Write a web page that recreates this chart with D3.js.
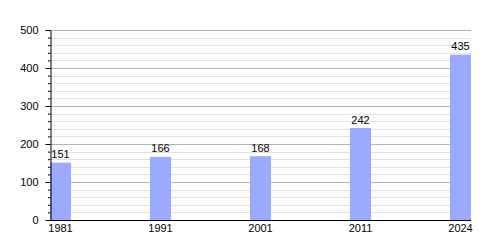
<!DOCTYPE html>
<html>
<head>
<meta charset="utf-8">
<script src="https://cdn.jsdelivr.net/npm/d3@7"></script>
<style>
  body { margin: 0; background: #fff; }
  svg { display: block; font-family: "Liberation Sans", Arial, sans-serif; }
</style>
</head>
<body>
<div class="bar-chart"></div>
<script>
//======================DATA===================================================
const years = ['1981', '1991', '2001', '2011', '2024'];
const population = [151, 166, 168, 242, 435];
const majorTicks = [0, 100, 200, 300, 400, 500];
const minorTicks = d3.range(0, 501, 20);

//======================CHART==================================================
const w = 500;
const h = 250;

const plotLeft = 50;
const plotRight = 471;
const plotTop = 30;
const plotBottom = 220;

const xScale = d3.scaleBand()
  .domain(years)
  .range([plotLeft, plotRight])
  .paddingInner(0.79)
  .paddingOuter(0);

const yScale = d3.scaleLinear()
  .domain([0, 500])
  .range([plotBottom, plotTop]);

const svg = d3.select(".bar-chart").append("svg")
  .attr("width", w)
  .attr("height", h);

// minor grid

svg.append("g")
  .selectAll("line")
  .data(minorTicks.filter(d => d % 100 !== 0))
  .join("line")
  .attr("x1", plotLeft)
  .attr("x2", plotRight)
  .attr("y1", d => Math.round(yScale(d)) + 0.5)
  .attr("y2", d => Math.round(yScale(d)) + 0.5)
  .attr("stroke", "#e2e2e2");

// major grid

svg.append("g")
  .selectAll("line")
  .data(majorTicks.filter(d => d > 0))
  .join("line")
  .attr("x1", plotLeft)
  .attr("x2", plotRight)
  .attr("y1", d => Math.round(yScale(d)) + 0.5)
  .attr("y2", d => Math.round(yScale(d)) + 0.5)
  .attr("stroke", "#b4b4b4");

// bars

svg.append("g")
  .selectAll("rect")
  .data(population)
  .join("rect")
  .attr("x", (d, i) => xScale(years[i]))
  .attr("y", d => yScale(d))
  .attr("width", xScale.bandwidth())
  .attr("height", d => plotBottom - yScale(d))
  .attr("fill", "#99aaff");

// value labels

svg.append("g")
  .selectAll("text")
  .data(population)
  .join("text")
  .attr("x", (d, i) => xScale(years[i]) + xScale.bandwidth() / 2)
  .attr("y", d => yScale(d) - 4.5)
  .attr("text-anchor", "middle")
  .attr("font-size", 11)
  .attr("fill", "#000")
  .text(d => d);

// y axis: minor ticks, then major ticks with labels

svg.append("g")
  .attr("transform", "translate(" + (plotLeft + 0.5) + ",0)")
  .call(d3.axisLeft(yScale).tickValues(minorTicks).tickSize(2.5).tickFormat(""))
  .call(g => g.select(".domain").remove());

const yAxis = svg.append("g")
  .attr("transform", "translate(" + (plotLeft + 0.5) + ",0)")
  .call(d3.axisLeft(yScale).tickValues(majorTicks).tickSize(5).tickSizeOuter(0).tickPadding(7));

yAxis.selectAll("text")
  .attr("font-size", 11)
  .attr("font-family", "Liberation Sans, Arial, sans-serif")
  .attr("fill", "#000");

// x axis

const xAxis = svg.append("g")
  .attr("transform", "translate(0," + (plotBottom + 0.5) + ")")
  .call(d3.axisBottom(xScale).tickSize(0).tickSizeOuter(0).tickPadding(4));

xAxis.select(".domain").attr("d", "M" + plotLeft + ",0H" + plotRight);

xAxis.selectAll("text")
  .attr("font-size", 11)
  .attr("font-family", "Liberation Sans, Arial, sans-serif")
  .attr("fill", "#000");
</script>
</body>
</html>
